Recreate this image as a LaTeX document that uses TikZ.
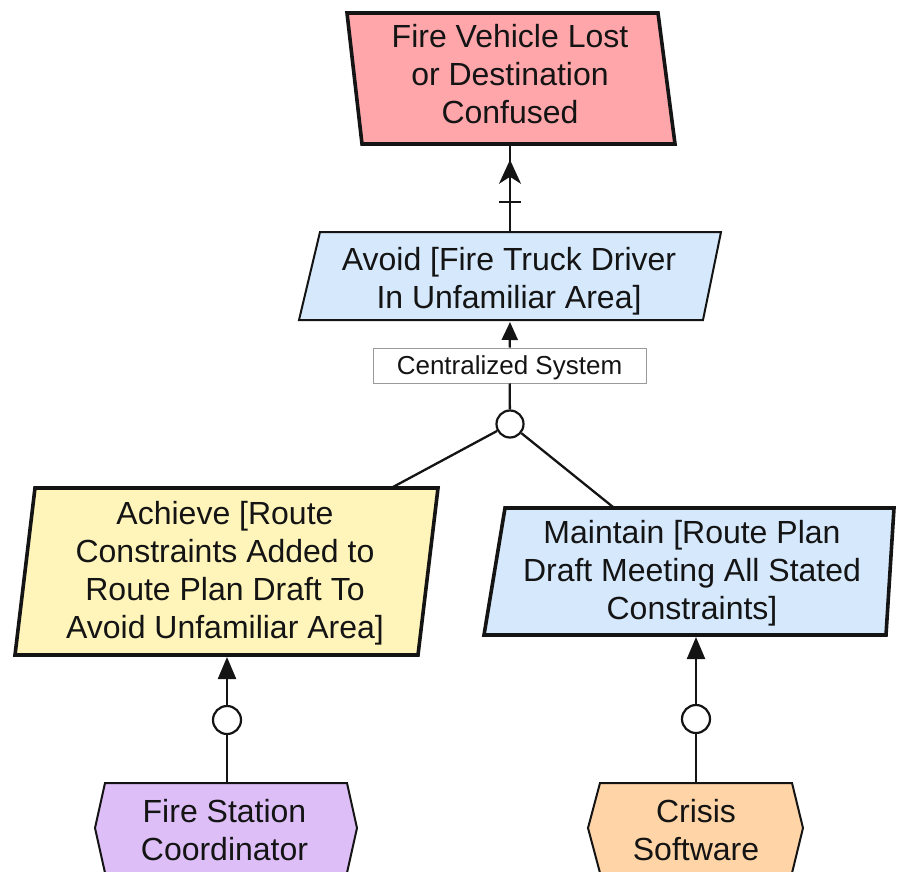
\documentclass[tikz,border=0pt]{standalone}
\usepackage{fontspec}
\setmainfont{Liberation Sans}
\usetikzlibrary{arrows.meta,decorations.markings}

\definecolor{ink}{HTML}{141414}
\definecolor{obstaclefill}{HTML}{FFA6AB}
\definecolor{goalfill}{HTML}{D5E8FC}
\definecolor{expfill}{HTML}{FFF5BA}
\definecolor{humanfill}{HTML}{DDBEF7}
\definecolor{softfill}{HTML}{FFD4A6}
\definecolor{labelframe}{HTML}{9A9A9A}

% text nodes are placed by the baseline of their last line
\tikzset{
  txt/.style={font=\fontsize{32}{38}\selectfont, align=center, anchor=base, text=ink, inner sep=0pt},
  heavy/.style={draw=ink, line width=3.6pt, line join=miter},
  light/.style={draw=ink, line width=2pt, line join=miter},
  link/.style={draw=ink, line width=2.3pt},
  tip/.style={-{Triangle[length=18pt,width=16pt]}},
  bigtip/.style={-{Triangle[length=22pt,width=18pt]}},
  dot/.style={circle, draw=ink, fill=white, line width=2.2pt, minimum size=27pt, inner sep=0pt},
  tag/.style={draw=labelframe, fill=white, line width=1pt, minimum width=273pt, minimum height=35pt,
              inner sep=0pt, text depth=0pt, text=ink, font=\fontsize{26}{30}\selectfont},
  obstruct/.style={link, postaction={decorate}, decoration={markings,
      mark=at position 0.345 with {\draw[ink, line width=2.3pt] (0,-11) -- (0,11);},
      mark=at position 0.83 with {\arrow{Stealth[length=24pt,width=22pt,inset=7pt]}}}}
}

\begin{document}
\begin{tikzpicture}[x=1pt, y=-1pt]
\useasboundingbox (0,0) rectangle (899,872);
\clip (0,0) rectangle (899,872);

% obstacle
\draw[heavy, fill=obstaclefill] (347,13) -- (658,13) -- (675,144) -- (362,144) -- cycle;
\node[txt] (obs) at (510,124) {Fire Vehicle Lost\\or Destination\\Confused};
\coordinate (obs-s) at (510,145);

% soft goal to avoid
\draw[light, fill=goalfill] (320,232) -- (721,232) -- (703,320) -- (299,320) -- cycle;
\node[txt] (avoid) at (509,308) {Avoid [Fire Truck Driver\\In Unfamiliar Area]};
\coordinate (av-n) at (510,232);
\coordinate (av-s) at (510,322);

% refinement
\node[tag] (lab) at (509.5,365.5) {Centralized System};
\node[dot] (ref) at (510,424) {};

% expectation
\draw[heavy, fill=expfill] (35,488) -- (438,488) -- (418,655) -- (15,655) -- cycle;
\node[txt] (ach) at (225,638) {Achieve [Route\\Constraints Added to\\Route Plan Draft To\\Avoid Unfamiliar Area]};
\coordinate (ach-n) at (393,487);
\coordinate (ach-s) at (227,657);

% requirement
\draw[heavy, fill=goalfill] (505,508) -- (894,508) -- (886,635) -- (484,635) -- cycle;
\node[txt] (mnt) at (692,619) {Maintain [Route Plan\\Draft Meeting All Stated\\Constraints]};
\coordinate (mnt-n) at (613,507);
\coordinate (mnt-s) at (696,637);

% agents
\draw[light, fill=humanfill] (105,783) -- (347,783) -- (357,828) -- (345.4,880) -- (106.6,880) -- (95,828) -- cycle;
\node[txt] (fsc) at (224.5,860) {Fire Station\\Coordinator};
\coordinate (fsc-n) at (227,783);

\draw[light, fill=softfill] (600,783) -- (792,783) -- (803,828) -- (790.3,880) -- (601.9,880) -- (588,828) -- cycle;
\node[txt] (csw) at (696,860) {Crisis\\Software};
\coordinate (csw-n) at (696,783);

\node[dot, minimum size=28pt] (c1) at (227,720) {};
\node[dot, minimum size=28pt] (c2) at (696,719) {};

% links
\draw[obstruct] (av-n) -- (obs-s);
\draw[link, tip] (lab) -- (av-s);
\draw[link] (ref) -- (lab);
\draw[link] (ref) -- (ach-n);
\draw[link] (ref) -- (mnt-n);
\draw[link, bigtip] (c1) -- (ach-s);
\draw[link] (fsc-n) -- (c1);
\draw[link, bigtip] (c2) -- (mnt-s);
\draw[link] (csw-n) -- (c2);
\end{tikzpicture}
\end{document}
